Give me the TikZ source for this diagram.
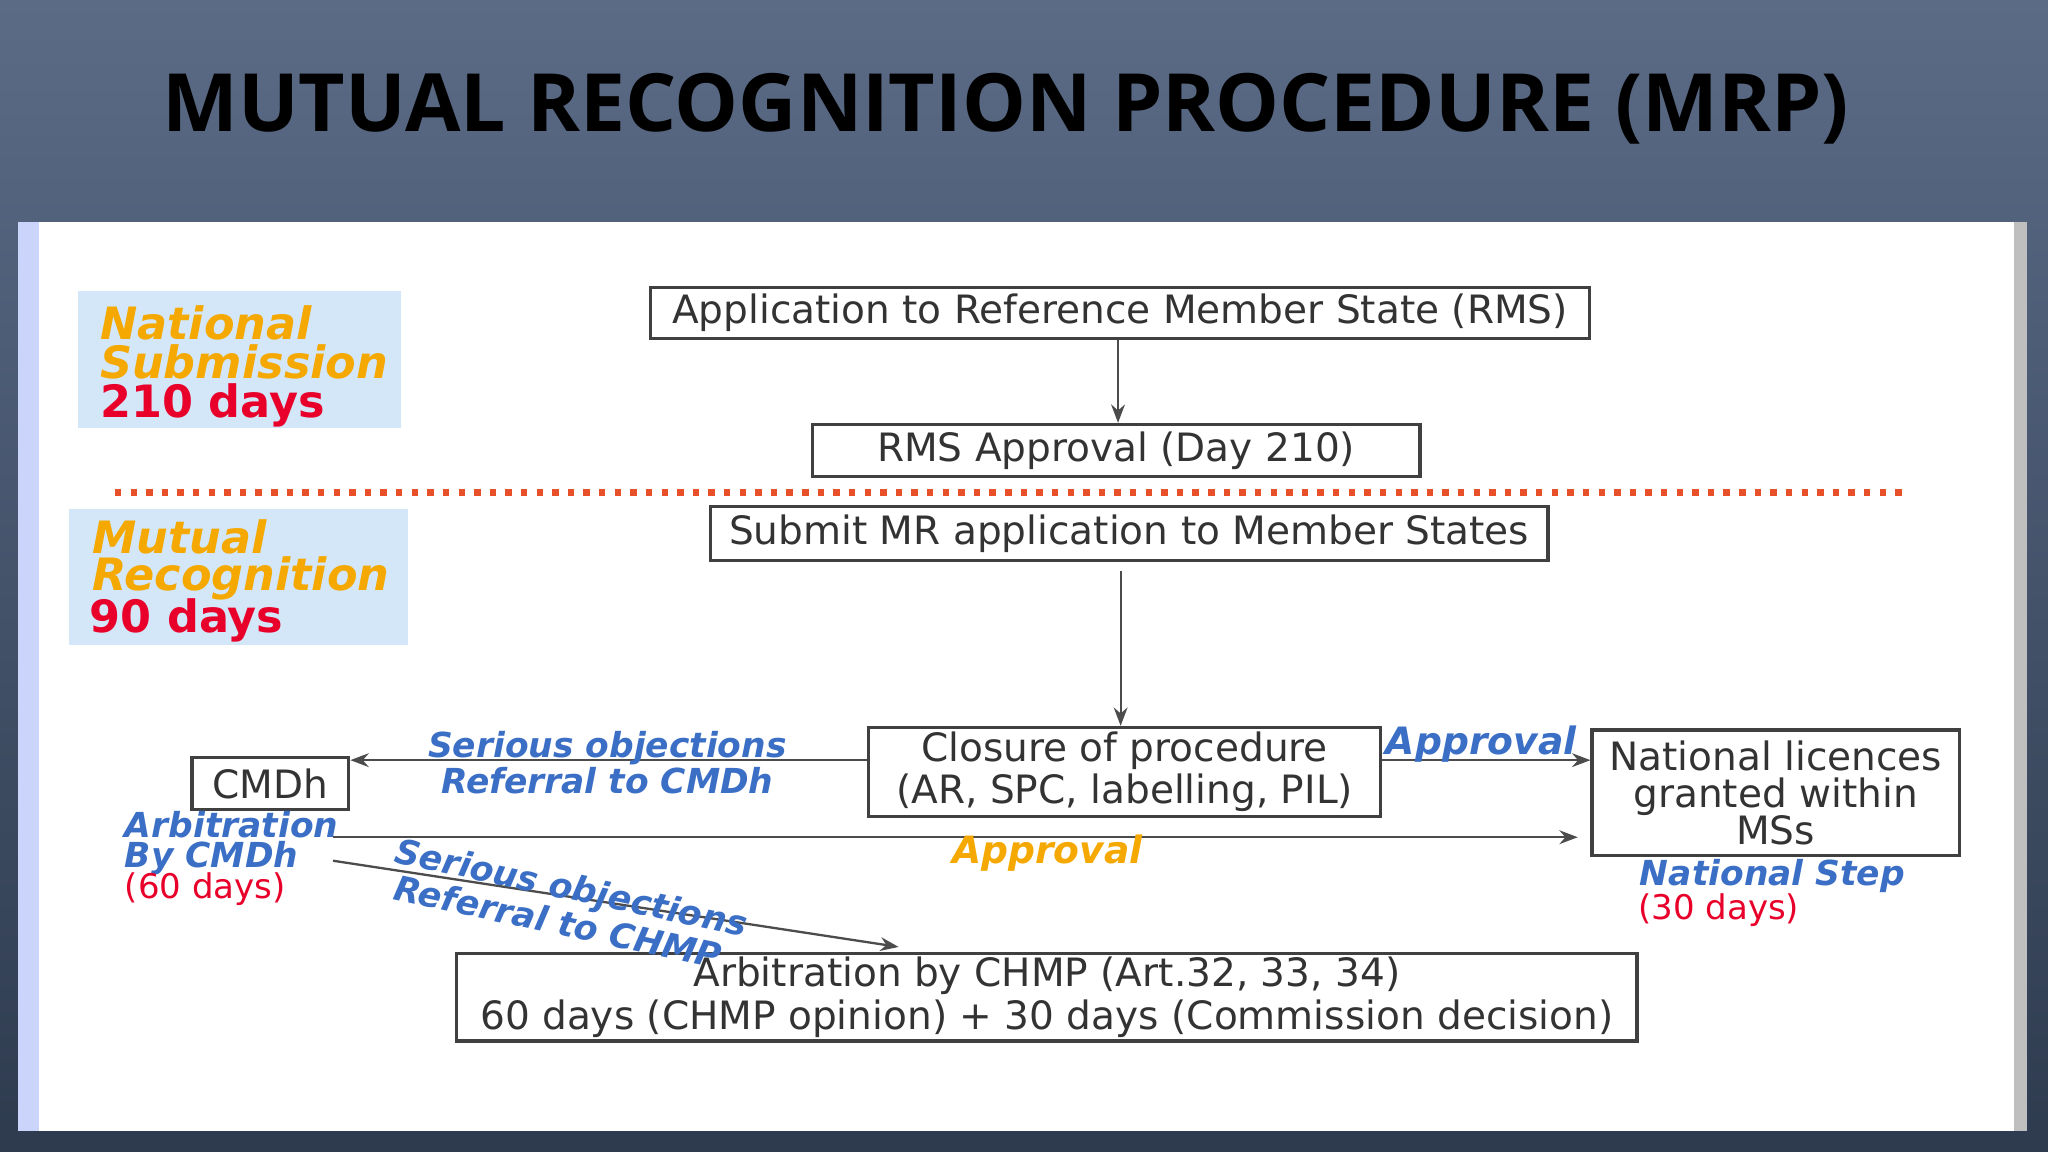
\documentclass[tikz,border=0pt]{standalone}
\usepackage{fontspec}
\setmainfont{DejaVu Sans}
\newfontfamily\titlefont{Open Sans}
\usetikzlibrary{arrows.meta}
\definecolor{bgtop}{HTML}{5B6B86}
\definecolor{bgbot}{HTML}{2E3B4F}
\definecolor{lblue}{HTML}{D3E7F8}
\definecolor{orng}{HTML}{F5A800}
\definecolor{rd}{HTML}{E8002A}
\definecolor{bl}{HTML}{3B6FC6}
\definecolor{dotred}{HTML}{E8502A}
\tikzset{
  box/.style={draw=black!75, line width=0.7pt, inner sep=0pt, font=\fontsize{8.5}{8.1}\selectfont, text=black!80, align=center},
  lab/.style={font=\fontsize{7.5}{8.5}\selectfont\bfseries\itshape, inner sep=0pt},
  side/.style={inner sep=0pt, anchor=west, font=\fontsize{9.7}{11}\selectfont\bfseries\itshape},
  arr/.style={draw=black!70, line width=0.5pt, -{Stealth[length=4pt,width=3pt]}}
}
\begin{document}
\begin{tikzpicture}[x=0.01cm,y=-0.01cm]
\useasboundingbox (0,0) rectangle (1568,882);
\shade[top color=bgtop, bottom color=bgbot] (0,0) rectangle (1568,882);
\fill[white] (14,170) rectangle (1552,866);
\fill[lblue!80!blue!60] (14,170) rectangle (30,866);
\fill[gray!50] (1542,170) rectangle (1552,866);
\node[font=\titlefont\bfseries\fontsize{17.5}{20}\selectfont, text=black] (title) at (770,83) {MUTUAL RECOGNITION PROCEDURE (MRP)};

% side boxes
\fill[lblue] (60,223) rectangle (307,328);
\node[side, text=orng] (ns1) at (76,247) {National};
\node[side, text=orng] (ns2) at (76,277) {Submission};
\node[side, text=rd, font=\fontsize{9.7}{11}\selectfont\bfseries] (ns3) at (76,310) {210 days};
\fill[lblue] (53,390) rectangle (312,494);
\node[side, text=orng] (mr1) at (70,411) {Mutual};
\node[side, text=orng] (mr2) at (70,443) {Recognition};
\node[side, text=rd, font=\fontsize{9.7}{11}\selectfont\bfseries] (mr3) at (68,475) {90 days};

% boxes
\node[box, minimum width=7.19cm, minimum height=0.39cm] (app) at (857.5,239.5) {Application to Reference Member State (RMS)};
\node[box, minimum width=4.65cm, minimum height=0.40cm] (rms) at (854.5,345) {RMS Approval (Day 210)};
\draw[dotred, line width=1.4pt, dotted] (88,377) -- (1462,377);
\node[box, minimum width=6.41cm, minimum height=0.41cm] (sub) at (864.5,408.5) {Submit MR application to Member States};
\node[box, minimum width=3.92cm, minimum height=0.68cm] (clo) at (861,591) {Closure of procedure\\(AR, SPC, labelling, PIL)};
\node[box, minimum width=2.81cm, minimum height=0.96cm] (nat) at (1359.5,607) {National licences\\granted within\\MSs};
\node[box, minimum width=1.20cm, minimum height=0.40cm] (cmdh) at (207,600) {CMDh};
\node[box, minimum width=9.03cm, minimum height=0.67cm] (chmp) at (801.5,763.5) {Arbitration by CHMP (Art.32, 33, 34)\\60 days (CHMP opinion) + 30 days (Commission decision)};

% connectors
\draw[arr] (app.south -| 856,0) -- (rms.north -| 856,0);
\draw[arr] (858,437) -- (clo.north -| 858,0);
\draw[arr] (clo.west |- 0,582) -- (cmdh.east |- 0,582);
\draw[arr] (clo.east |- 0,582) -- (nat.west |- 0,582);
\coordinate (a1) at (255,641);
\coordinate (a2) at (1208,641);
\coordinate (b1) at (255,659);
\coordinate (b2) at (688,725);
\draw[arr] (a1) -- (a2);
\draw[arr] (b1) -- (b2);

% labels
\node[lab, text=bl] (so1) at (465,573) {Serious objections};
\node[lab, text=bl] (so2) at (465,598) {Referral to CMDh};
\node[lab, text=bl, font=\fontsize{8.2}{9}\selectfont\bfseries\itshape] (ap1) at (1134,570) {Approval};
\node[lab, text=orng, font=\fontsize{8.2}{9}\selectfont\bfseries\itshape] (ap2) at (802,653) {Approval};
\node[lab, text=bl, anchor=west] (ar1) at (95,631) {Arbitration};
\node[lab, text=bl, anchor=west] (ar2) at (95,657) {By CMDh};
\node[lab, text=rd, anchor=west, font=\fontsize{7.4}{8.5}\selectfont] (ar3) at (95,681) {(60 days)};
\node[lab, text=bl, rotate=-12, anchor=west] (sc1) at (302,653) {Serious objections};
\node[lab, text=bl, rotate=-12, anchor=west] (sc2) at (302,679) {Referral to CHMP};
\node[lab, text=bl] (nst) at (1357,671) {National Step};
\node[lab, text=rd, font=\fontsize{7.4}{8.5}\selectfont] (nd) at (1316,697) {(30 days)};
\end{tikzpicture}
\end{document}
